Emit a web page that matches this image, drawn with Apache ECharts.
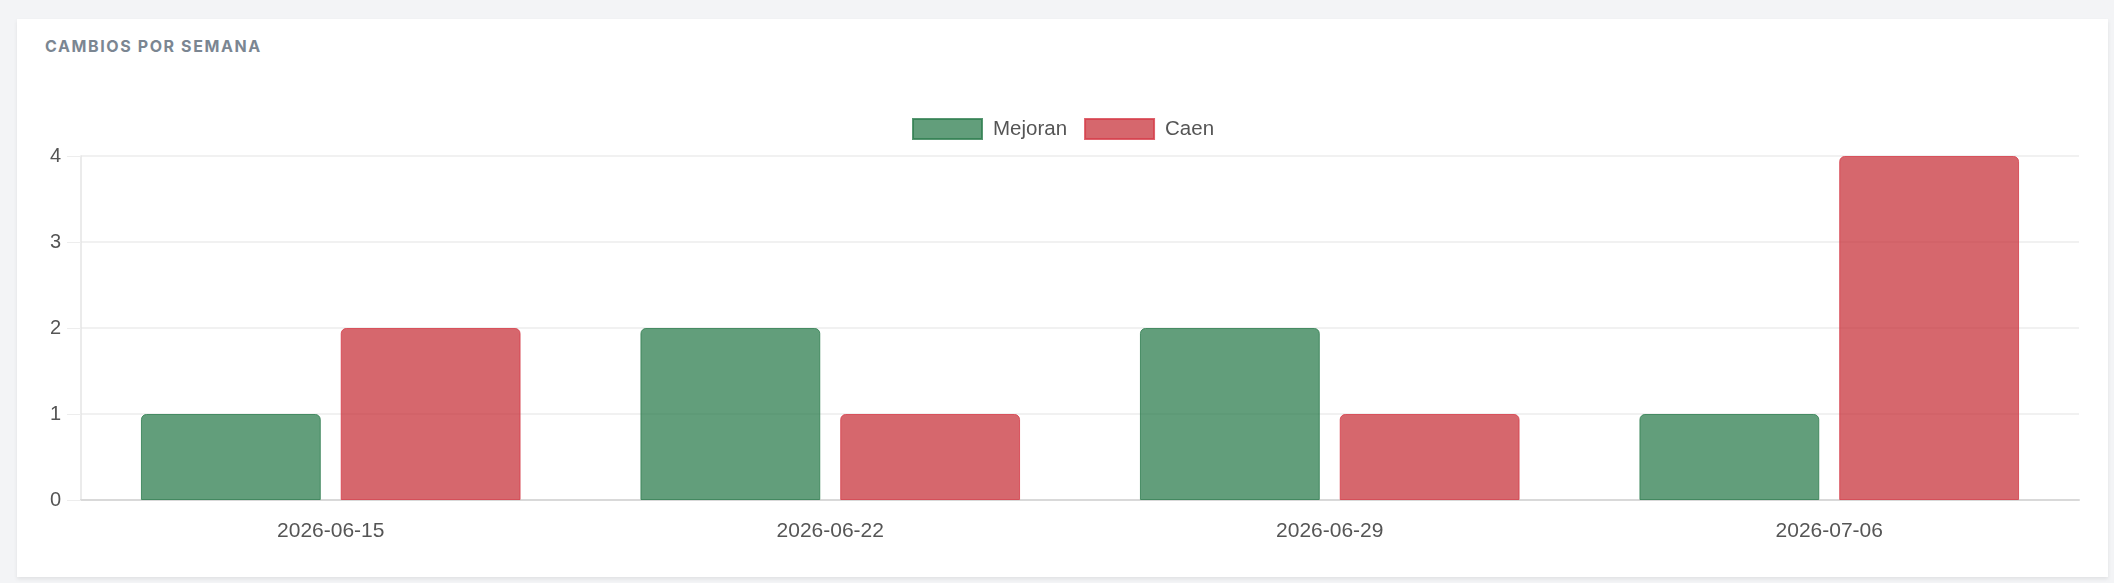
<!DOCTYPE html>
<html>
<head>
<meta charset="utf-8">
<script src="https://cdn.jsdelivr.net/npm/echarts@6/dist/echarts.min.js"></script>
<style>
    html, body { margin: 0; padding: 0; background: #f3f4f6; }
    #card {
        position: absolute; left: 17px; top: 19px; width: 2091px; height: 558px;
        background: #fff; box-shadow: 0 2px 4px rgba(0,0,0,0.08);
    }
    #title {
        position: absolute; left: 45px; top: 38px; margin: 0;
        font-family: Inter, "Open Sans", sans-serif; font-size: 16px; line-height: 16px;
        font-weight: 700; letter-spacing: 1.6px; color: #7b8692;
    }
    #chart { position: absolute; left: 0; top: 0; width: 2114px; height: 583px; }
</style>
</head>
<body>
<div id="card"></div>
<div id="title">CAMBIOS POR SEMANA</div>
<div id="chart"></div>
<script>
// semanas y cambios
var semanas = ['2026-06-15', '2026-06-22', '2026-06-29', '2026-07-06'];
var mejoran = [1, 2, 2, 1];
var caen = [2, 1, 1, 4];
var yTicks = [0, 1, 2, 3, 4];

var chart = echarts.init(document.getElementById('chart'));
var labelColor = '#555';
var fuente = '"Liberation Sans", Arial, sans-serif';
var option = {
    backgroundColor: 'transparent',
    animation: false,
    legend: {
        left: 912,
        top: 118,
        padding: 0,
        itemWidth: 69,
        itemHeight: 20,
        itemGap: 17,
        icon: 'rect',
        data: ['Mejoran', 'Caen'],
        textStyle: {
            color: labelColor,
            fontFamily: fuente,
            fontSize: 20.5,
            lineHeight: 20,
            padding: [0, 0, 0, 6]
        }
    },
    grid: {
        left: 81,
        right: 35,
        top: 156,
        bottom: 83,
        containLabel: false
    },
    xAxis: {
        type: 'category',
        data: semanas,
        axisLine: { lineStyle: { color: '#d9d9d9', width: 2 } },
        axisTick: { show: false },
        axisLabel: {
            color: labelColor,
            fontFamily: fuente,
            fontSize: 21,
            margin: 21
        },
        splitLine: { show: false }
    },
    yAxis: {
        type: 'value',
        min: yTicks[0],
        max: yTicks[yTicks.length - 1],
        interval: 1,
        axisLine: { show: true, lineStyle: { color: '#e4e4e4', width: 1.5 } },
        axisTick: { show: true, length: 14, lineStyle: { color: '#ededed' } },
        axisLabel: {
            color: labelColor,
            fontFamily: fuente,
            fontSize: 20,
            margin: 20
        },
        splitLine: { lineStyle: { color: '#ededed', width: 1.5 } }
    },
    series: [{
        name: 'Mejoran',
        type: 'bar',
        data: mejoran,
        barWidth: '36%',
        barGap: '11.1%',
        itemStyle: {
            color: 'rgba(46,125,79,0.75)',
            borderColor: 'rgba(46,125,79,0.8)',
            borderWidth: 1,
            borderRadius: [5, 5, 0, 0]
        }
    }, {
        name: 'Caen',
        type: 'bar',
        data: caen,
        barWidth: '36%',
        barGap: '11.1%',
        itemStyle: {
            color: 'rgba(200,52,60,0.75)',
            borderColor: 'rgba(214,60,72,0.8)',
            borderWidth: 1,
            borderRadius: [5, 5, 0, 0]
        }
    }]
};
chart.setOption(option);
</script>
</body>
</html>
